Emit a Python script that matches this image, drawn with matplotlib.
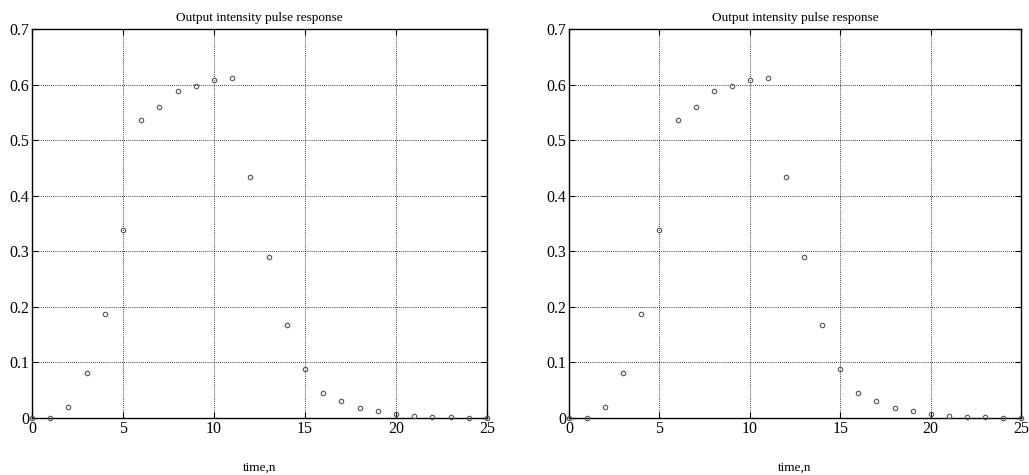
import numpy as np
import matplotlib as mpl
import matplotlib.pyplot as plt

N = np.arange(0, 26)
INTENSITY = np.array([
    0.000, 0.000, 0.020, 0.081, 0.187, 0.338, 0.537, 0.559, 0.589, 0.598,
    0.608, 0.612, 0.433, 0.290, 0.167, 0.088, 0.045, 0.031, 0.018, 0.013,
    0.007, 0.003, 0.001, 0.001, 0.000, 0.000,
])
X_TICKS = [0, 5, 10, 15, 20, 25]
Y_TICKS = [0, 0.1, 0.2, 0.3, 0.4, 0.5, 0.6, 0.7]
Y_LABELS = ["0", "0.1", "0.2", "0.3", "0.4", "0.5", "0.6", "0.7"]
TITLE = "Output intensity pulse response"
XLABEL = "time,n"

mpl.rcParams.update({
    "font.family": ["Liberation Serif", "DejaVu Serif"],
    "xtick.direction": "in",
    "ytick.direction": "in",
    "xtick.top": True,
    "ytick.right": True,
    "axes.linewidth": 1.0,
})


def draw(ax):
    ax.plot(N, INTENSITY, linestyle="none", marker="o", markersize=3.2,
            markerfacecolor="none", markeredgecolor="#555555",
            markeredgewidth=0.8, clip_on=False, zorder=3)
    ax.set_xlim(0, 25)
    ax.set_ylim(0, 0.7)
    ax.set_xticks(X_TICKS)
    ax.set_yticks(Y_TICKS, Y_LABELS)
    ax.tick_params(labelsize=11.5, length=4, width=0.8, pad=2)
    ax.grid(True, color="black", linestyle=(0, (1, 1.5)), linewidth=0.6)
    ax.set_title(TITLE, fontsize=9.5, pad=6)
    ax.set_xlabel(XLABEL, fontsize=9.5, labelpad=18)


fig = plt.figure(figsize=(10.29, 4.75), dpi=100)
ax1 = fig.add_axes([0.0311, 0.12, 0.4422, 0.819])
ax2 = fig.add_axes([0.553, 0.12, 0.4393, 0.819])
draw(ax1)
draw(ax2)

fig.savefig("out.png", dpi=100)
